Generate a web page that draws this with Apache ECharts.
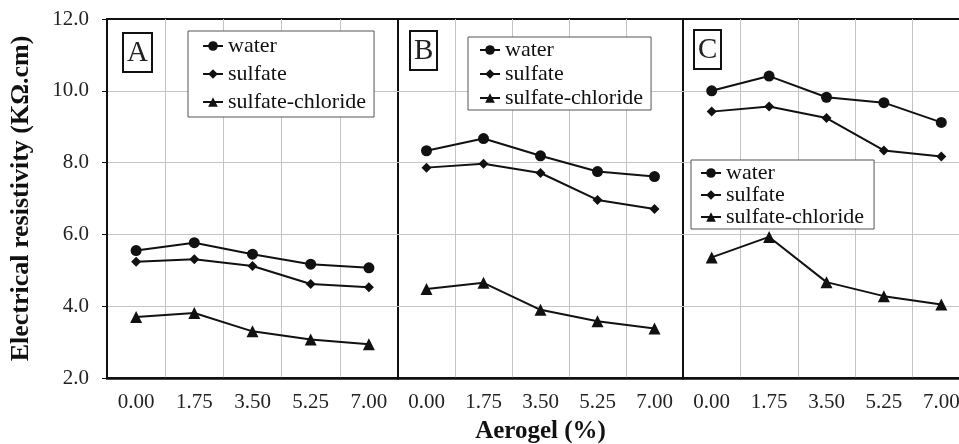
<!DOCTYPE html>
<html>
<head>
<meta charset="utf-8">
<script src="https://cdn.jsdelivr.net/npm/echarts@6/dist/echarts.min.js"></script>
<style>
  html, body { margin: 0; padding: 0; background: #fff; }
  #chart { width: 959px; height: 444px; }
</style>
</head>
<body>
<div id="chart"></div>
<script>
// x categories: aerogel content (%)
const aerogel = ['0.00', '1.75', '3.50', '5.25', '7.00'];
const panelLabels = ['A', 'B', 'C'];
const seriesNames = ['water', 'sulfate', 'sulfate-chloride'];

// panel A
const waterA = [5.55, 5.77, 5.45, 5.17, 5.07];
const sulfateA = [5.24, 5.31, 5.12, 4.62, 4.53];
const chlorideA = [3.70, 3.81, 3.30, 3.07, 2.94];
// panel B
const waterB = [8.33, 8.67, 8.19, 7.75, 7.61];
const sulfateB = [7.86, 7.97, 7.71, 6.96, 6.71];
const chlorideB = [4.48, 4.65, 3.90, 3.58, 3.38];
// panel C
const waterC = [10.0, 10.41, 9.82, 9.67, 9.12];
const sulfateC = [9.42, 9.56, 9.24, 8.34, 8.17];
const chlorideC = [5.36, 5.93, 4.67, 4.28, 4.05];

const panelData = [
  [waterA, sulfateA, chlorideA],
  [waterB, sulfateB, chlorideB],
  [waterC, sulfateC, chlorideC]
];

const serif = 'Liberation Serif';
const ink = '#111';

const grids = [
  { left: 107, top: 19, width: 291, height: 359 },
  { left: 398, top: 19, width: 285, height: 359 },
  { left: 683, top: 19, width: 287, height: 359 }
];

// marker per series
const markers = [
  { symbol: 'circle', size: 11 },
  { symbol: 'diamond', size: [10, 10] },
  { symbol: 'triangle', size: 12 }
];

// legend boxes and letter boxes
const legends = [
  { left: 188, top: 31, itemGap: 6, padding: [4, 8, 4, 14] },
  { left: 468, top: 37, itemGap: 2, padding: [2, 8, 1, 11] },
  { left: 691, top: 160, itemGap: 0, padding: [2, 10, 1, 9] }
];
const letterBoxes = [
  { left: 123, top: 33 },
  { left: 410, top: 31 },
  { left: 694, top: 30 }
];

const gridLine = { show: true, showMinLine: false, showMaxLine: false, lineStyle: { color: '#c4c4c4', width: 1 } };

const chart = echarts.init(document.getElementById('chart'));

const xAxes = [], yAxes = [], series = [];
grids.forEach((g, i) => {
  g.show = true;
  g.borderColor = ink;
  g.borderWidth = 2;
  g.backgroundColor = 'transparent';
  g.outerBoundsMode = 'none';
  g.containLabel = false;

  xAxes.push({
    type: 'category',
    gridIndex: i,
    data: aerogel,
    boundaryGap: true,
    axisLine: { lineStyle: { color: ink, width: 2.5 } },
    axisTick: { show: false },
    axisLabel: { fontFamily: serif, fontSize: 21, color: '#222', margin: 14 },
    splitLine: gridLine,
    name: i === 1 ? 'Aerogel (%)' : '',
    nameLocation: 'middle',
    nameGap: 41,
    nameTextStyle: { fontFamily: serif, fontSize: 25, fontWeight: 'bold', color: ink }
  });

  yAxes.push({
    type: 'value',
    gridIndex: i,
    min: 2,
    max: 12,
    interval: 2,
    axisLine: { show: i === 0, lineStyle: { color: ink, width: 2 } },
    axisTick: { show: i === 0, length: 5, lineStyle: { color: ink } },
    axisLabel: {
      show: i === 0,
      fontFamily: serif, fontSize: 21, color: '#222', margin: 18,
      formatter: v => v.toFixed(1)
    },
    splitLine: gridLine,
    name: i === 0 ? 'Electrical resistivity (KΩ.cm)' : '',
    nameLocation: 'middle',
    nameGap: 73,
    nameTextStyle: { fontFamily: serif, fontSize: 26, fontWeight: 'bold', color: ink }
  });

  panelData[i].forEach((vals, k) => {
    series.push({
      name: seriesNames[k],
      type: 'line',
      xAxisIndex: i,
      yAxisIndex: i,
      data: vals,
      symbol: markers[k].symbol,
      symbolSize: markers[k].size,
      showAllSymbol: true,
      color: ink,
      lineStyle: { color: ink, width: 2 },
      itemStyle: { color: ink },
      emphasis: { disabled: true },
      z: 3
    });
  });
});

chart.setOption({
  animation: false,
  backgroundColor: '#fff',
  grid: grids,
  xAxis: xAxes,
  yAxis: yAxes,
  series: series,
  legend: legends.map(l => ({
    data: seriesNames,
    orient: 'vertical',
    left: l.left,
    top: l.top,
    itemGap: l.itemGap,
    padding: l.padding,
    itemWidth: 20,
    itemHeight: 12,
    backgroundColor: '#fff',
    borderColor: '#555',
    borderWidth: 1,
    selectedMode: false,
    textStyle: { fontFamily: serif, fontSize: 22, color: ink }
  })),
  title: letterBoxes.map((b, i) => ({
    text: panelLabels[i],
    left: b.left,
    top: b.top,
    padding: [6, 4, 4, 4],
    borderColor: ink,
    borderWidth: 2,
    backgroundColor: '#fff',
    textStyle: { fontFamily: serif, fontSize: 29, fontWeight: 'normal', color: '#222' }
  }))
});
</script>
</body>
</html>
